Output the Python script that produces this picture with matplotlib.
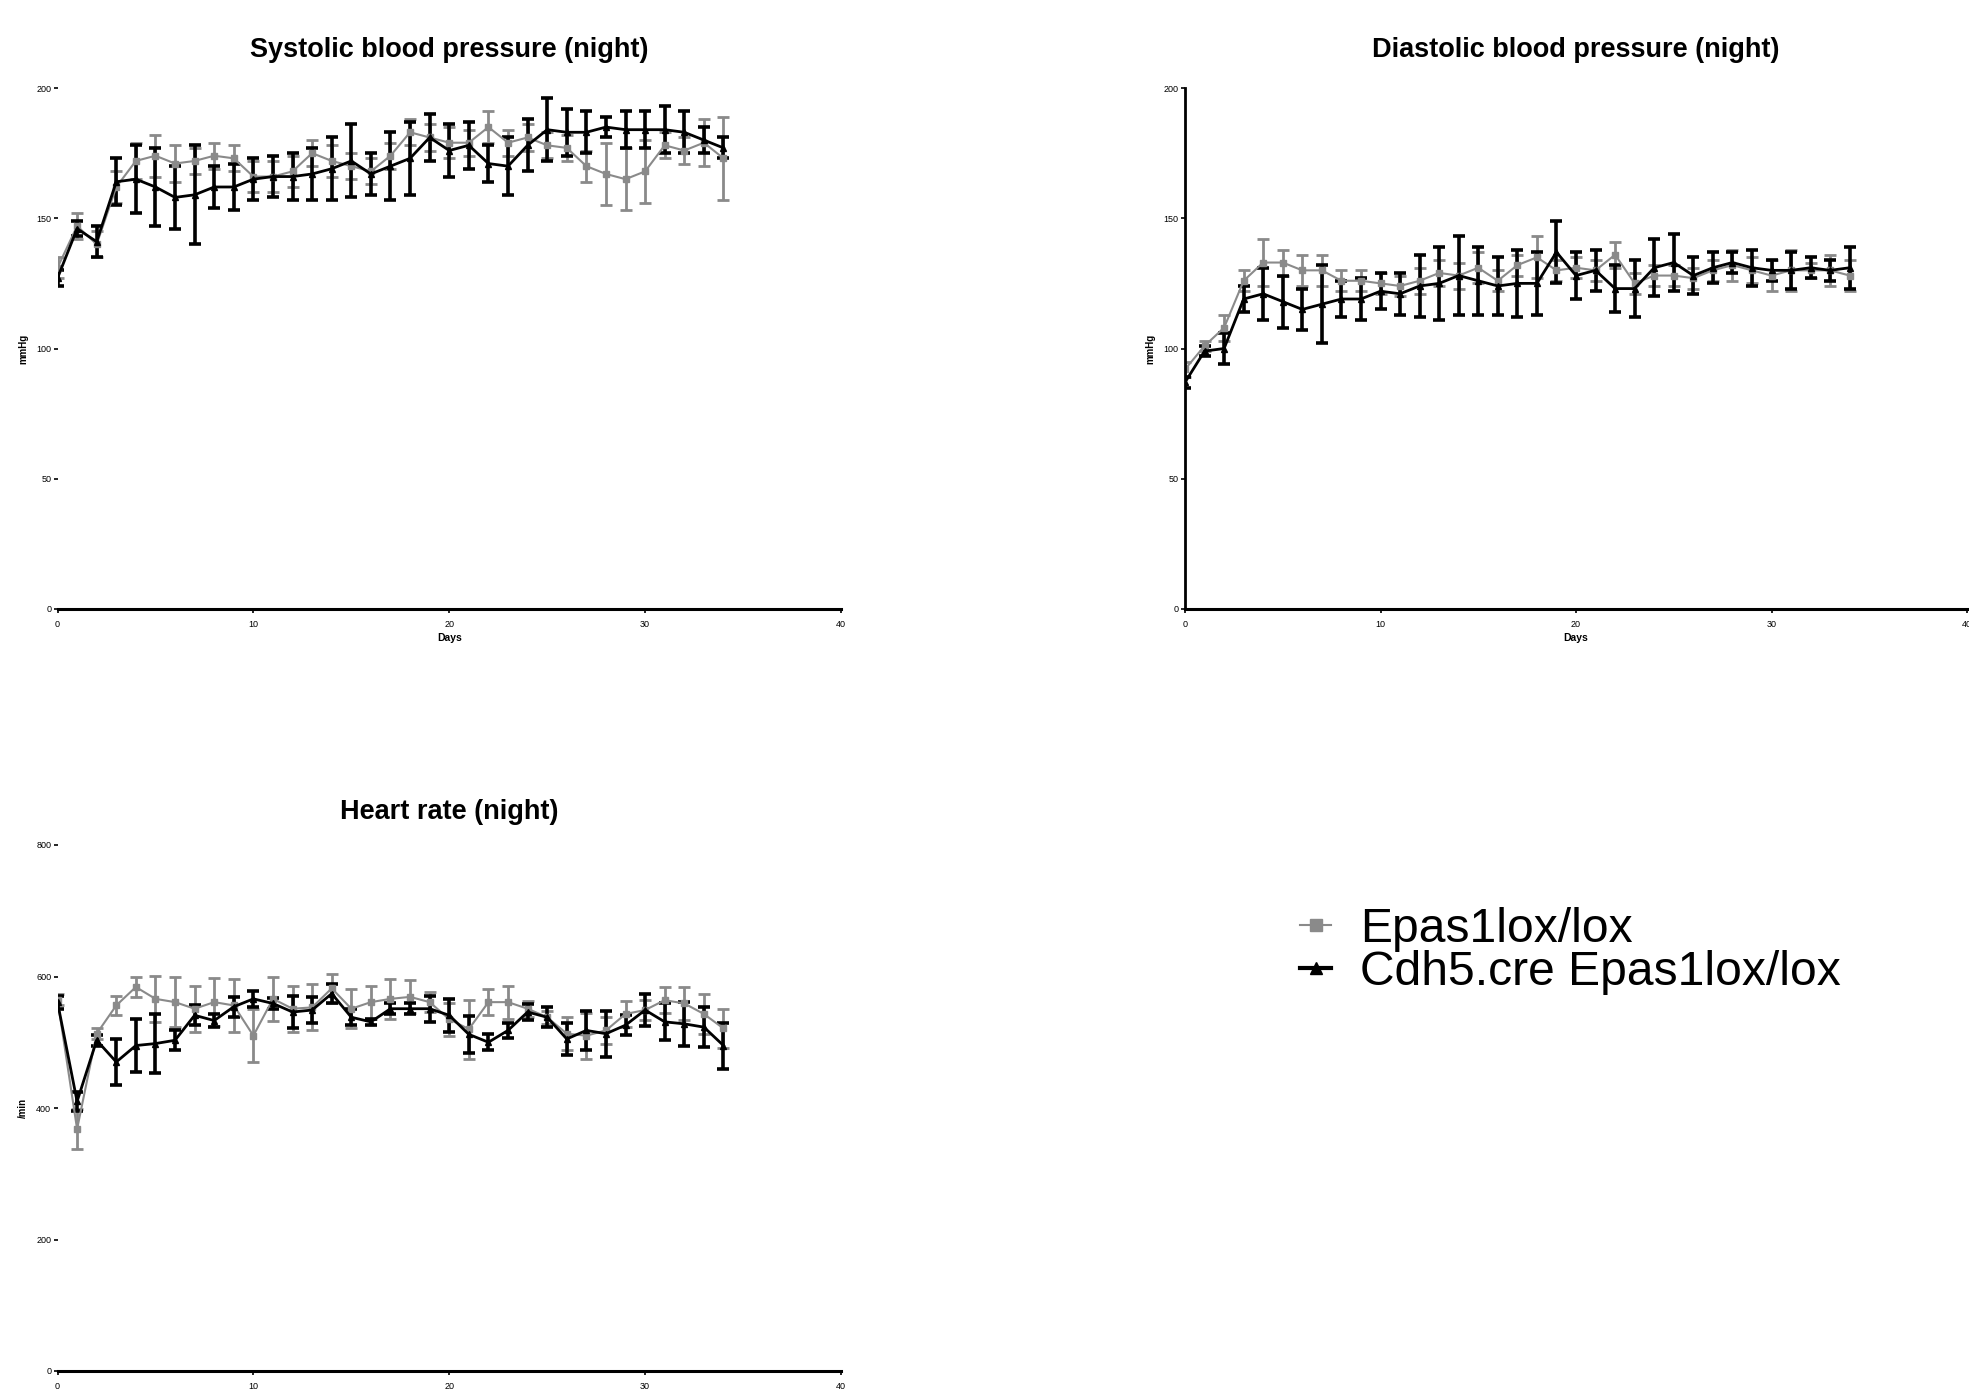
import numpy as np
import matplotlib.pyplot as plt
from matplotlib.lines import Line2D

plt.rcParams['font.family'] = ['Liberation Sans', 'DejaVu Sans']

days = np.arange(35)

# systolic (mmHg), mean and SEM
sys_ctrl = [131, 147, 140, 162, 172, 174, 171, 172, 174, 173, 166, 166, 168, 175, 172, 170, 168,
            174, 183, 181, 179, 179, 185, 179, 181, 178, 177, 170, 167, 165, 168, 178, 176, 179, 173]
sys_ctrl_err = [4, 5, 5, 6, 7, 8, 7, 5, 5, 5, 6, 6, 6, 5, 6, 5, 5,
                5, 5, 5, 6, 5, 6, 5, 5, 5, 5, 6, 12, 12, 12, 5, 5, 9, 16]
sys_ko = [127, 146, 141, 164, 165, 162, 158, 159, 162, 162, 165, 166, 166, 167, 169, 172, 167,
          170, 173, 181, 176, 178, 171, 170, 178, 184, 183, 183, 185, 184, 184, 184, 183, 180, 177]
sys_ko_err = [3, 3, 6, 9, 13, 15, 12, 19, 8, 9, 8, 8, 9, 10, 12, 14, 8,
              13, 14, 9, 10, 9, 7, 11, 10, 12, 9, 8, 4, 7, 7, 9, 8, 5, 4]

# diastolic (mmHg)
dia_ctrl = [92, 101, 108, 126, 133, 133, 130, 130, 126, 126, 125, 124, 126, 129, 128, 131, 126,
            132, 135, 130, 131, 130, 136, 125, 128, 128, 127, 130, 132, 130, 128, 130, 130, 130, 128]
dia_ctrl_err = [3, 2, 5, 4, 9, 5, 6, 6, 4, 4, 4, 4, 5, 5, 5, 6, 4,
                4, 8, 4, 4, 4, 5, 4, 4, 4, 4, 4, 6, 5, 6, 8, 3, 6, 6]
dia_ko = [87, 99, 100, 119, 121, 118, 115, 117, 119, 119, 122, 121, 124, 125, 128, 126, 124,
          125, 125, 137, 128, 130, 123, 123, 131, 133, 128, 131, 133, 131, 130, 130, 131, 130, 131]
dia_ko_err = [2, 2, 6, 5, 10, 10, 8, 15, 7, 8, 7, 8, 12, 14, 15, 13, 11,
              13, 12, 12, 9, 8, 9, 11, 11, 11, 7, 6, 4, 7, 4, 7, 4, 4, 8]

# heart rate (/min)
hr_ctrl = [565, 368, 513, 556, 584, 566, 561, 551, 561, 556, 510, 566, 551, 553, 582, 551, 561,
           566, 569, 561, 535, 520, 561, 561, 551, 538, 513, 510, 518, 543, 549, 564, 559, 543, 521]
hr_ctrl_err = [8, 30, 8, 15, 15, 35, 38, 35, 37, 40, 40, 33, 35, 35, 22, 30, 25,
               30, 25, 15, 25, 45, 20, 25, 12, 10, 25, 35, 20, 20, 15, 20, 25, 30, 30]
hr_ko = [561, 410, 503, 470, 495, 498, 503, 541, 533, 554, 566, 559, 546, 549, 574, 538, 531,
         551, 551, 551, 541, 512, 500, 518, 546, 538, 505, 518, 513, 526, 549, 531, 528, 523, 495]
hr_ko_err = [10, 15, 8, 35, 40, 45, 15, 15, 10, 15, 12, 8, 25, 20, 15, 12, 5,
             8, 8, 20, 25, 28, 12, 12, 12, 15, 25, 30, 35, 15, 25, 28, 33, 30, 35]

labels = ['Epas1lox/lox', 'Cdh5.cre Epas1lox/lox']
GRAY = '#8a8a8a'


def panel(ax, title, ylabel, c, ce, k, ke, ymax, ystep, left_spine, title_pad):
    ax.errorbar(days, c, yerr=ce, color=GRAY, marker='s', ms=5, lw=1.5,
                elinewidth=2, capsize=4, capthick=2)
    ax.errorbar(days, k, yerr=ke, color='black', marker='^', ms=5, lw=2,
                elinewidth=2.6, capsize=4, capthick=2.6)
    ax.set_xlim(0, 40)
    ax.set_ylim(0, ymax)
    ax.set_xticks([0, 10, 20, 30, 40])
    ax.set_yticks(np.arange(0, ymax + 1, ystep))
    for s in ['top', 'right']:
        ax.spines[s].set_visible(False)
    ax.spines['left'].set_visible(left_spine)
    ax.spines['left'].set_linewidth(2)
    ax.spines['bottom'].set_linewidth(2.2)
    ax.tick_params(labelsize=6.5, length=3, width=1.2, pad=1.5)
    ax.tick_params(axis='x', pad=5)
    ax.set_title(title, fontsize=19.5, fontweight='bold', pad=title_pad)
    ax.set_ylabel(ylabel, fontsize=7, fontweight='bold', labelpad=6)
    ax.set_xlabel('Days', fontsize=7.5, fontweight='bold', labelpad=3)


fig = plt.figure(figsize=(19.69, 13.89), dpi=100)
W, H = 1969, 1389
ax1 = fig.add_axes([57.5 / W, 1 - 609 / H, 783.5 / W, 521 / H])
ax2 = fig.add_axes([1185 / W, 1 - 609 / H, 782 / W, 521 / H])
ax3 = fig.add_axes([57.5 / W, 1 - 1371 / H, 783.5 / W, 526 / H])

panel(ax1, 'Systolic blood pressure (night)', 'mmHg', sys_ctrl, sys_ctrl_err, sys_ko, sys_ko_err,
      200, 50, False, 22)
panel(ax2, 'Diastolic blood pressure (night)', 'mmHg', dia_ctrl, dia_ctrl_err, dia_ko, dia_ko_err,
      200, 50, True, 22)
panel(ax3, 'Heart rate (night)', '/min', hr_ctrl, hr_ctrl_err, hr_ko, hr_ko_err,
      800, 200, False, 19)
ax3.set_xlabel('')

handles = [Line2D([], [], color=GRAY, marker='s', ms=9, lw=1.5),
           Line2D([], [], color='black', marker='^', ms=9, lw=3)]
fig.legend(handles, labels, loc='center left', bbox_to_anchor=(1300 / W, 1 - 951 / H),
           frameon=False, fontsize=34.6, handlelength=0.65, handletextpad=0.6,
           labelspacing=-0.03, borderpad=0, borderaxespad=0)

fig.savefig('out.png', dpi=100)
